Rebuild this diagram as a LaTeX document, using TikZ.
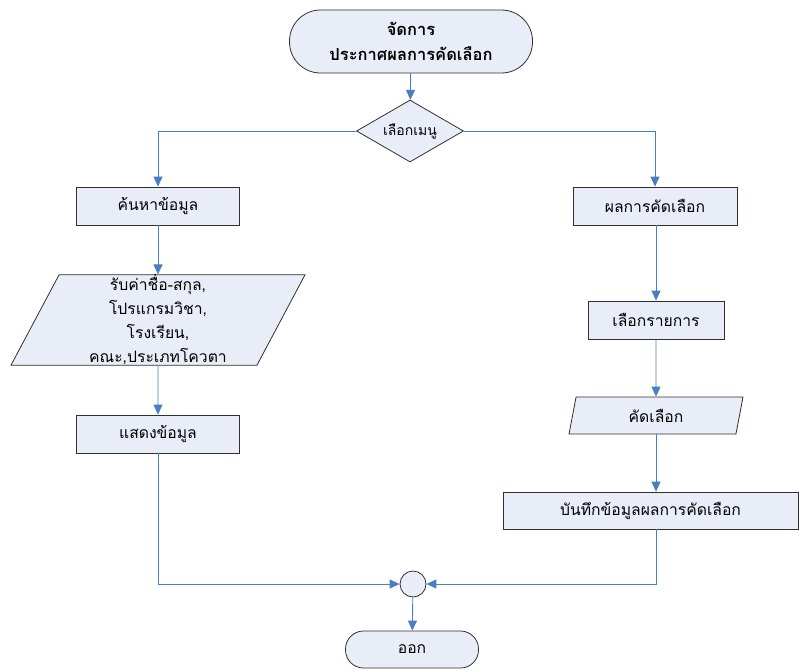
\documentclass[tikz,border=0pt]{standalone}
\usepackage{fontspec}
\newfontfamily\thaifont[Script=Thai]{Loma}
\usetikzlibrary{shapes.geometric,arrows.meta,calc}
\definecolor{flowblue}{HTML}{4A7EC4}
\definecolor{boxfill}{HTML}{E8EDF7}
\definecolor{boxline}{HTML}{303030}
\tikzset{
  base/.style={draw=boxline, fill=boxfill, line width=0.8pt, inner sep=0pt, align=center,
    font=\thaifont\fontsize{15.7}{24}\selectfont},
  procbox/.style={base, rectangle},
  iobox/.style={base, trapezium, trapezium left angle=62, trapezium right angle=118,
    trapezium stretches body},
  termbox/.style={base, rectangle, rounded corners=18pt},
  decbox/.style={base, diamond, aspect=1.7},
  joinbox/.style={base, circle, minimum size=26pt},
  flow/.style={draw=flowblue, line width=0.9pt, -{Triangle[length=10pt,width=9pt]}},
}
\begin{document}
\begin{tikzpicture}[x=1pt,y=-1pt]
\useasboundingbox (0,0) rectangle (799,669);
\node[termbox, rounded corners=31pt, minimum width=243pt, minimum height=63pt,
  font=\thaifont\bfseries\fontsize{16.5}{25}\selectfont] (start) at (411,41.5) {จัดการ\\ประกาศผลการคัดเลือก};
\node[decbox, minimum width=107pt, minimum height=62pt, font=\thaifont\fontsize{14}{20}\selectfont] (menu) at (410,131) {เลือกเมนู};
\node[procbox, minimum width=163pt, minimum height=38pt] (search) at (158,206) {ค้นหาข้อมูล};
\node[iobox, minimum width=294pt, minimum height=88pt] (input) at (158,320)
  {รับค่าชื่อ-สกุล,\\โปรแกรมวิชา,\\โรงเรียน,\\คณะ,ประเภทโควตา};
\node[procbox, minimum width=163pt, minimum height=38pt] (show) at (158,434) {แสดงข้อมูล};
\node[procbox, minimum width=164pt, minimum height=38pt] (result) at (655,206) {ผลการคัดเลือก};
\node[procbox, minimum width=136pt, minimum height=38pt] (choose) at (656,320) {เลือกรายการ};
\node[iobox, minimum width=174pt, minimum height=37pt] (select) at (656,415.5) {คัดเลือก};
\node[procbox, minimum width=295pt, minimum height=37pt] (save) at (650.5,510.5) {บันทึกข้อมูลผลการคัดเลือก};
\node[joinbox] (join) at (413,584) {};
\node[termbox, minimum width=133pt, minimum height=37pt] (end) at (412,649.5) {ออก};

\draw[flow] (start) -- (menu);
\draw[flow] (menu.west) -| (search.north);
\draw[flow] (menu.east) -| (result.north);
\draw[flow] (search) -- (input);
\draw[flow] (input) -- (show);
\draw[flow] (show.south) |- (join.west);
\draw[flow] (result.south -| choose) -- (choose.north);
\draw[flow] (choose) -- (select);
\draw[flow] (select.south) -- (select.south |- save.north);
\draw[flow] (save.south -| select.south) |- (join.east);
\draw[flow] (join) -- (end);
\end{tikzpicture}
\end{document}
